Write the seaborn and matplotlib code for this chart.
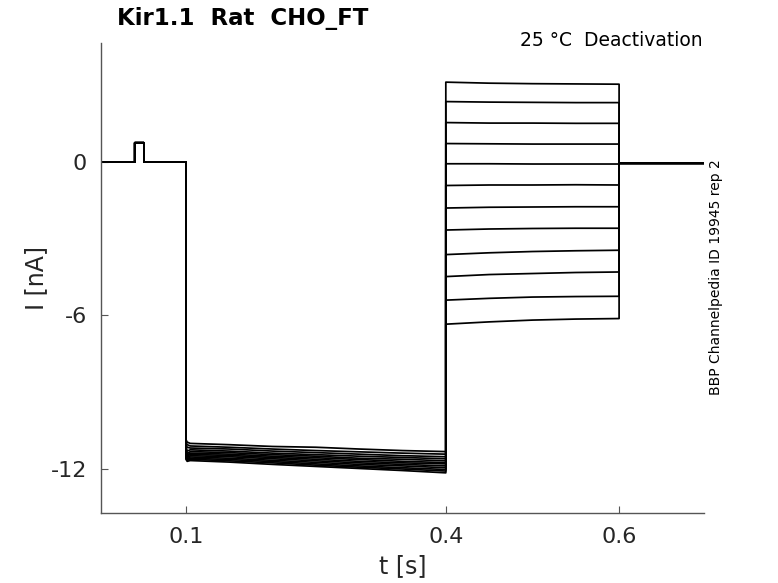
import numpy as np
import pandas as pd
import matplotlib
matplotlib.use("Agg")
import matplotlib.pyplot as plt
import seaborn as sns

# ---- data ----
t_start = 0.002
prepulse_t = [0.041, 0.0515]
prepulse_amp = 0.75
t_step = 0.1
t_tail = 0.4
t_off = 0.6
t_end = 0.698

hyp_t = [0.1, 0.1015, 0.105, 0.15, 0.2, 0.25, 0.3, 0.35, 0.4]
hyp_values = [
    [-10.85, -10.95, -11.00, -11.05, -11.12, -11.15, -11.22, -11.28, -11.32],
    [-10.95, -11.05, -11.10, -11.15, -11.22, -11.28, -11.33, -11.38, -11.42],
    [-11.05, -11.15, -11.18, -11.22, -11.30, -11.36, -11.42, -11.48, -11.52],
    [-11.10, -11.30, -11.25, -11.30, -11.38, -11.44, -11.50, -11.55, -11.60],
    [-11.20, -11.40, -11.32, -11.36, -11.44, -11.50, -11.58, -11.62, -11.68],
    [-11.25, -11.45, -11.38, -11.42, -11.50, -11.56, -11.63, -11.70, -11.75],
    [-11.30, -11.50, -11.43, -11.47, -11.55, -11.62, -11.70, -11.76, -11.80],
    [-11.38, -11.55, -11.48, -11.52, -11.60, -11.68, -11.76, -11.82, -11.88],
    [-11.45, -11.60, -11.53, -11.58, -11.66, -11.74, -11.82, -11.88, -11.95],
    [-11.50, -11.62, -11.58, -11.63, -11.71, -11.80, -11.88, -11.95, -12.02],
    [-11.55, -11.66, -11.62, -11.68, -11.76, -11.85, -11.93, -12.00, -12.08],
    [-11.62, -11.70, -11.67, -11.73, -11.82, -11.90, -11.98, -12.06, -12.15],
]

tail_t = [0.4, 0.45, 0.5, 0.55, 0.6]
tail_values = [
    [3.12, 3.08, 3.06, 3.05, 3.04],
    [2.36, 2.34, 2.33, 2.32, 2.32],
    [1.54, 1.52, 1.52, 1.51, 1.51],
    [0.72, 0.71, 0.70, 0.70, 0.70],
    [-0.07, -0.07, -0.08, -0.08, -0.08],
    [-0.92, -0.90, -0.90, -0.89, -0.90],
    [-1.80, -1.77, -1.76, -1.75, -1.75],
    [-2.66, -2.62, -2.60, -2.59, -2.59],
    [-3.62, -3.55, -3.50, -3.47, -3.45],
    [-4.48, -4.40, -4.36, -4.32, -4.30],
    [-5.40, -5.33, -5.28, -5.26, -5.25],
    [-6.34, -6.25, -6.18, -6.14, -6.12],
]
post_level = -0.05

x_ticks = [0.1, 0.4, 0.6]
x_ticklabels = ["0.1", "0.4", "0.6"]
y_ticks = [-12, -6, 0]
y_ticklabels = ["-12", "-6", "0"]

title = "Kir1.1  Rat  CHO_FT"
subtitle = "25 °C  Deactivation"
side_note = "BBP Channelpedia ID 19945 rep 2"

# ---- build long table ----
rows = []
for i, (hv, tv) in enumerate(zip(hyp_values, tail_values)):
    pts = [(t_start, 0.0), (prepulse_t[0], 0.0), (prepulse_t[0], prepulse_amp),
           (prepulse_t[1], prepulse_amp), (prepulse_t[1], 0.0), (t_step, 0.0)]
    pts += list(zip(hyp_t, hv))
    pts += list(zip(tail_t, tv))
    pts += [(t_off, post_level), (t_end, post_level)]
    for k, (t, v) in enumerate(pts):
        rows.append({"t": t, "I": v, "sweep": i, "order": k})
df = pd.DataFrame(rows)

sns.set_style("white")
plt.rcParams["font.family"] = ["DejaVu Sans"]

fig = plt.figure(figsize=(7.78, 5.83), dpi=100)
ax = fig.add_axes([101 / 778, 70 / 583, 603 / 778, 470 / 583])

sns.lineplot(data=df, x="t", y="I", units="sweep", estimator=None, sort=False,
             color="black", linewidth=1.25, ax=ax, legend=False)

ax.set_xlim(t_start, t_end)
ax.set_ylim(-13.72, 4.65)
ax.set_xticks(x_ticks)
ax.set_xticklabels(x_ticklabels)
ax.set_yticks(y_ticks)
ax.set_yticklabels(y_ticklabels)

for s in ["top", "right"]:
    ax.spines[s].set_visible(False)
for s in ["left", "bottom"]:
    ax.spines[s].set_color("#555555")
    ax.spines[s].set_linewidth(1.0)
ax.tick_params(bottom=True, left=True, direction="in", length=5, width=0.8,
               color="#555555", labelsize=16, labelcolor="#262626")
ax.tick_params(axis="x", pad=10)
ax.tick_params(axis="y", pad=10)

ax.set_xlabel("t [s]", fontsize=17, color="#262626", labelpad=5)
ax.set_ylabel("I [nA]", fontsize=17, color="#262626")
ax.yaxis.set_label_coords(-65 / 603, 0.5)
ax.yaxis.label.set_verticalalignment("center")

fig.text(117 / 778, 1 - 18 / 583, title, fontsize=16.5, fontweight="bold",
         ha="left", va="center", color="black")
fig.text(703 / 778, 1 - 40 / 583, subtitle, fontsize=13.5, ha="right",
         va="center", color="black")
fig.text(716 / 778, 1 - 277 / 583, side_note, fontsize=10, rotation=90,
         ha="center", va="center", color="black")

fig.savefig("out.png", dpi=100)
